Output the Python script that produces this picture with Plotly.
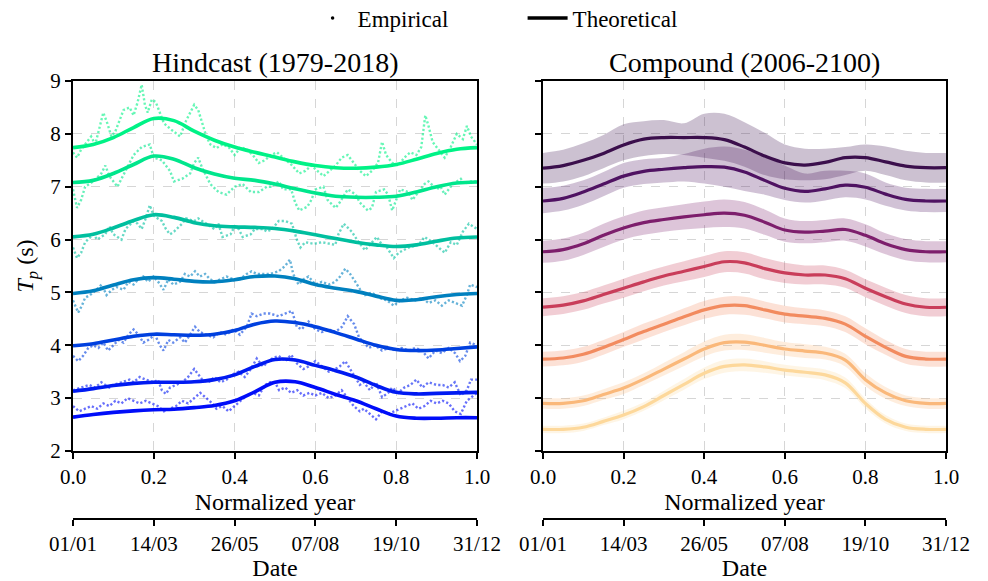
import plotly.graph_objects as go

# ---------------------------------------------------------------------------
# Data
# ---------------------------------------------------------------------------
# Normalized-year grid for the fitted (theoretical) quantile curves
year_grid = [0.00, 0.05, 0.10, 0.15, 0.20, 0.25, 0.30, 0.35, 0.40, 0.45, 0.50,
             0.55, 0.60, 0.65, 0.70, 0.75, 0.80, 0.85, 0.90, 0.95, 1.00]

quantiles = [0.05, 0.10, 0.25, 0.50, 0.75, 0.90, 0.95]

# Hindcast theoretical quantile curves of Tp (s)
hind_q05 = [2.64, 2.69, 2.73, 2.76, 2.78, 2.79, 2.82, 2.86, 2.95, 3.12, 3.30,
            3.31, 3.20, 3.07, 2.95, 2.80, 2.66, 2.62, 2.62, 2.63, 2.63]
hind_q10 = [3.13, 3.18, 3.24, 3.28, 3.30, 3.30, 3.31, 3.35, 3.44, 3.60, 3.73,
            3.72, 3.62, 3.52, 3.40, 3.24, 3.11, 3.08, 3.09, 3.10, 3.11]
hind_q25 = [3.99, 4.03, 4.10, 4.17, 4.21, 4.20, 4.19, 4.21, 4.28, 4.40, 4.46,
            4.43, 4.35, 4.24, 4.12, 4.00, 3.92, 3.90, 3.91, 3.94, 3.97]
hind_q50 = [4.98, 5.03, 5.14, 5.24, 5.28, 5.25, 5.21, 5.20, 5.24, 5.30, 5.31,
            5.26, 5.15, 5.08, 5.02, 4.93, 4.85, 4.86, 4.92, 4.96, 4.98]
hind_q75 = [6.05, 6.10, 6.22, 6.36, 6.47, 6.42, 6.32, 6.26, 6.24, 6.23, 6.21,
            6.16, 6.09, 6.02, 5.95, 5.90, 5.87, 5.90, 5.97, 6.03, 6.05]
hind_q90 = [7.08, 7.12, 7.25, 7.42, 7.58, 7.52, 7.36, 7.24, 7.16, 7.12, 7.05,
            6.96, 6.88, 6.82, 6.80, 6.80, 6.82, 6.90, 7.00, 7.07, 7.09]
hind_q95 = [7.74, 7.80, 7.93, 8.12, 8.29, 8.25, 8.05, 7.88, 7.75, 7.65, 7.56,
            7.47, 7.40, 7.36, 7.35, 7.37, 7.42, 7.52, 7.63, 7.71, 7.74]

# Hindcast empirical quantiles: (normalized year, Tp)
emp_q05 = [(0.000, 2.85), (0.015, 2.75), (0.030, 2.80), (0.045, 2.85), (0.060, 2.80),
           (0.075, 2.90), (0.090, 2.85), (0.105, 2.95), (0.120, 2.90), (0.135, 3.00),
           (0.150, 2.95), (0.165, 2.90), (0.180, 2.95), (0.195, 2.90), (0.210, 2.85),
           (0.225, 2.75), (0.240, 2.80), (0.255, 2.85), (0.270, 2.95), (0.285, 2.90),
           (0.300, 3.00), (0.315, 3.10), (0.330, 3.00), (0.345, 2.90), (0.355, 2.80),
           (0.370, 2.85), (0.385, 2.75), (0.400, 2.85), (0.415, 2.95), (0.430, 3.05),
           (0.445, 3.10), (0.460, 3.05), (0.475, 3.25), (0.488, 3.30), (0.500, 3.30),
           (0.510, 3.15), (0.525, 3.20), (0.540, 3.10), (0.555, 3.15), (0.570, 3.05),
           (0.585, 3.10), (0.600, 3.05), (0.616, 3.10), (0.633, 3.00), (0.649, 3.05),
           (0.665, 3.15), (0.680, 3.00), (0.695, 2.85), (0.710, 2.75), (0.720, 2.80),
           (0.735, 2.70), (0.750, 2.60), (0.765, 2.75), (0.780, 2.70), (0.795, 2.75),
           (0.810, 2.80), (0.825, 2.85), (0.840, 2.90), (0.855, 2.80), (0.870, 2.85),
           (0.885, 2.95), (0.900, 2.90), (0.915, 2.95), (0.930, 2.90), (0.945, 2.75),
           (0.960, 2.70), (0.975, 2.95), (0.990, 3.05), (1.000, 3.10)]

emp_q10 = [(0.000, 3.15), (0.020, 3.20), (0.040, 3.25), (0.055, 3.20), (0.070, 3.30),
           (0.090, 3.20), (0.100, 3.25), (0.120, 3.30), (0.140, 3.35), (0.150, 3.30),
           (0.165, 3.40), (0.180, 3.35), (0.200, 3.30), (0.210, 3.35), (0.220, 3.15),
           (0.230, 3.08), (0.240, 3.20), (0.255, 3.25), (0.270, 3.30), (0.285, 3.40),
           (0.300, 3.55), (0.310, 3.45), (0.320, 3.35), (0.335, 3.30), (0.350, 3.40),
           (0.365, 3.30), (0.380, 3.35), (0.395, 3.45), (0.410, 3.50), (0.425, 3.40),
           (0.440, 3.55), (0.455, 3.75), (0.470, 3.60), (0.485, 3.70), (0.493, 3.75),
           (0.509, 3.80), (0.525, 3.70), (0.540, 3.82), (0.555, 3.65), (0.570, 3.55),
           (0.583, 3.60), (0.600, 3.70), (0.616, 3.60), (0.633, 3.50), (0.649, 3.55),
           (0.660, 3.60), (0.674, 3.70), (0.686, 3.55), (0.700, 3.40), (0.710, 3.25),
           (0.720, 3.30), (0.735, 3.15), (0.750, 3.30), (0.765, 3.02), (0.780, 3.10),
           (0.790, 3.20), (0.805, 3.10), (0.820, 3.20), (0.835, 3.25), (0.850, 3.35),
           (0.865, 3.20), (0.880, 3.30), (0.900, 3.25), (0.915, 3.25), (0.930, 3.20),
           (0.945, 3.30), (0.960, 3.05), (0.975, 3.15), (0.985, 3.35), (1.000, 3.35)]

emp_q25 = [(0.000, 3.80), (0.013, 3.70), (0.025, 3.80), (0.038, 3.95), (0.050, 4.00),
           (0.063, 3.95), (0.075, 4.05), (0.087, 3.90), (0.100, 4.00), (0.112, 4.10),
           (0.125, 4.05), (0.137, 4.20), (0.150, 4.30), (0.162, 4.20), (0.174, 4.05),
           (0.186, 4.10), (0.203, 4.20), (0.215, 4.00), (0.224, 3.90), (0.236, 4.10),
           (0.248, 4.05), (0.265, 4.15), (0.277, 4.05), (0.290, 4.20), (0.302, 4.35),
           (0.314, 4.25), (0.330, 4.20), (0.347, 4.15), (0.364, 4.25), (0.380, 4.20),
           (0.397, 4.30), (0.413, 4.20), (0.430, 4.35), (0.442, 4.60), (0.455, 4.55),
           (0.471, 4.60), (0.488, 4.60), (0.509, 4.55), (0.525, 4.60), (0.542, 4.65),
           (0.554, 4.35), (0.566, 4.30), (0.583, 4.45), (0.600, 4.30), (0.616, 4.25),
           (0.633, 4.30), (0.649, 4.25), (0.666, 4.35), (0.680, 4.55), (0.696, 4.40),
           (0.708, 4.15), (0.720, 4.05), (0.732, 3.95), (0.748, 4.00), (0.765, 3.90),
           (0.781, 3.95), (0.798, 3.90), (0.814, 3.95), (0.831, 3.90), (0.847, 3.95),
           (0.864, 3.90), (0.880, 3.75), (0.897, 3.90), (0.913, 3.85), (0.930, 3.95),
           (0.946, 3.85), (0.958, 3.70), (0.971, 3.80), (0.983, 4.05), (1.000, 4.00)]

emp_q50 = [(0.000, 4.85), (0.013, 4.62), (0.022, 4.75), (0.030, 4.90), (0.042, 4.95),
           (0.058, 5.05), (0.071, 5.15), (0.083, 4.95), (0.096, 5.05), (0.108, 5.10),
           (0.125, 5.05), (0.137, 5.20), (0.150, 5.15), (0.162, 5.25), (0.174, 5.30),
           (0.186, 5.20), (0.199, 5.30), (0.211, 5.20), (0.224, 5.05), (0.236, 5.25),
           (0.248, 5.15), (0.265, 5.20), (0.277, 5.35), (0.290, 5.30), (0.302, 5.40),
           (0.314, 5.30), (0.327, 5.35), (0.339, 5.25), (0.351, 5.20), (0.364, 5.25),
           (0.380, 5.30), (0.397, 5.25), (0.413, 5.25), (0.430, 5.35), (0.442, 5.40),
           (0.455, 5.35), (0.471, 5.35), (0.488, 5.35), (0.509, 5.40), (0.525, 5.50),
           (0.537, 5.62), (0.545, 5.35), (0.558, 5.15), (0.571, 5.25), (0.583, 5.30),
           (0.600, 5.15), (0.616, 5.20), (0.633, 5.15), (0.649, 5.20), (0.661, 5.30),
           (0.674, 5.45), (0.686, 5.35), (0.699, 5.20), (0.711, 5.05), (0.723, 4.95),
           (0.740, 5.00), (0.756, 4.90), (0.777, 4.85), (0.794, 4.75), (0.810, 4.85),
           (0.827, 4.90), (0.847, 4.85), (0.864, 4.90), (0.880, 4.80), (0.897, 4.85),
           (0.913, 4.75), (0.930, 4.85), (0.946, 4.80), (0.963, 4.75), (0.975, 4.95),
           (0.983, 5.15), (1.000, 5.10)]

emp_q75 = [(0.000, 5.85), (0.010, 5.65), (0.020, 5.75), (0.030, 5.95), (0.050, 6.10),
           (0.060, 6.00), (0.080, 6.10), (0.090, 6.25), (0.100, 6.10), (0.120, 6.00),
           (0.130, 6.20), (0.150, 6.35), (0.160, 6.30), (0.170, 6.20), (0.180, 6.40),
           (0.190, 6.65), (0.200, 6.45), (0.210, 6.40), (0.220, 6.35), (0.230, 6.20),
           (0.240, 6.10), (0.250, 6.15), (0.270, 6.30), (0.280, 6.40), (0.300, 6.35),
           (0.310, 6.40), (0.330, 6.30), (0.350, 6.20), (0.360, 6.30), (0.370, 6.05),
           (0.390, 6.10), (0.400, 6.25), (0.410, 6.20), (0.420, 6.05), (0.440, 6.10),
           (0.450, 6.20), (0.470, 6.20), (0.480, 6.15), (0.493, 6.20), (0.509, 6.35),
           (0.525, 6.35), (0.542, 6.30), (0.554, 6.00), (0.563, 5.85), (0.575, 5.95),
           (0.596, 5.92), (0.616, 5.95), (0.633, 5.92), (0.649, 5.90), (0.657, 6.10),
           (0.670, 6.30), (0.690, 6.15), (0.707, 5.95), (0.723, 5.80), (0.740, 5.95),
           (0.752, 6.05), (0.765, 5.90), (0.777, 5.85), (0.794, 5.65), (0.806, 5.75),
           (0.831, 5.85), (0.855, 5.90), (0.870, 6.05), (0.890, 5.95), (0.905, 5.85),
           (0.920, 5.75), (0.935, 5.95), (0.950, 5.90), (0.965, 6.15), (0.980, 6.30),
           (0.990, 6.25), (1.000, 6.20)]

emp_q90 = [(0.000, 6.95), (0.010, 6.60), (0.020, 6.75), (0.030, 7.00), (0.050, 7.10),
           (0.070, 7.25), (0.080, 7.40), (0.090, 7.20), (0.110, 7.00), (0.130, 7.30),
           (0.150, 7.60), (0.170, 7.75), (0.190, 7.80), (0.200, 7.55), (0.220, 7.50),
           (0.240, 7.30), (0.250, 7.10), (0.270, 7.15), (0.290, 7.25), (0.300, 7.45),
           (0.310, 7.55), (0.320, 7.35), (0.340, 7.05), (0.360, 6.90), (0.380, 6.85),
           (0.400, 7.00), (0.420, 7.05), (0.440, 6.90), (0.460, 6.90), (0.480, 7.00),
           (0.490, 7.00), (0.510, 7.10), (0.520, 6.95), (0.540, 6.95), (0.550, 6.70),
           (0.560, 6.55), (0.580, 6.62), (0.590, 6.75), (0.600, 6.95), (0.620, 7.00),
           (0.630, 6.75), (0.650, 6.60), (0.660, 6.70), (0.680, 6.95), (0.700, 6.85),
           (0.710, 6.70), (0.730, 6.55), (0.740, 6.60), (0.750, 6.90), (0.770, 6.95),
           (0.780, 6.85), (0.790, 6.55), (0.800, 6.75), (0.810, 6.95), (0.830, 6.90),
           (0.840, 6.75), (0.850, 6.85), (0.870, 7.05), (0.880, 7.10), (0.900, 6.95),
           (0.910, 7.00), (0.920, 6.85), (0.940, 7.05), (0.960, 7.15), (0.970, 7.05),
           (0.980, 7.10), (1.000, 7.10)]

emp_q95 = [(0.000, 7.65), (0.010, 7.55), (0.020, 7.70), (0.035, 7.85), (0.045, 7.95),
           (0.055, 7.80), (0.065, 8.10), (0.075, 8.40), (0.085, 8.20), (0.095, 7.95),
           (0.105, 8.05), (0.115, 8.25), (0.125, 8.45), (0.140, 8.50), (0.150, 8.35),
           (0.160, 8.60), (0.170, 8.93), (0.178, 8.55), (0.185, 8.40), (0.195, 8.65),
           (0.205, 8.60), (0.215, 8.40), (0.225, 8.20), (0.240, 8.10), (0.255, 8.00),
           (0.265, 7.95), (0.280, 8.25), (0.290, 8.40), (0.300, 8.55), (0.310, 8.45),
           (0.320, 8.20), (0.330, 7.95), (0.340, 7.80), (0.355, 7.73), (0.370, 7.80),
           (0.385, 7.75), (0.400, 7.60), (0.415, 7.75), (0.430, 7.70), (0.445, 7.60),
           (0.460, 7.45), (0.475, 7.50), (0.490, 7.60), (0.505, 7.65), (0.520, 7.55),
           (0.540, 7.42), (0.560, 7.25), (0.575, 7.30), (0.590, 7.40), (0.605, 7.30),
           (0.620, 7.20), (0.635, 7.30), (0.650, 7.40), (0.665, 7.55), (0.680, 7.60),
           (0.695, 7.45), (0.710, 7.30), (0.725, 7.20), (0.740, 7.30), (0.755, 7.45),
           (0.765, 7.85), (0.775, 7.60), (0.790, 7.45), (0.805, 7.40), (0.820, 7.55),
           (0.835, 7.65), (0.850, 7.60), (0.862, 7.75), (0.872, 8.35), (0.880, 8.15),
           (0.890, 7.85), (0.905, 7.70), (0.920, 7.55), (0.935, 7.75), (0.950, 8.00),
           (0.965, 7.90), (0.975, 8.15), (0.985, 7.95), (1.000, 7.80)]

# Compound (2006-2100) theoretical quantile curves of Tp (s)
comp_q05 = [2.41, 2.41, 2.45, 2.56, 2.68, 2.84, 3.05, 3.26, 3.47, 3.60, 3.63,
            3.59, 3.53, 3.49, 3.44, 3.29, 2.90, 2.60, 2.45, 2.41, 2.41]
comp_q10 = [2.90, 2.90, 2.95, 3.07, 3.19, 3.36, 3.55, 3.74, 3.93, 4.05, 4.06,
            4.00, 3.93, 3.89, 3.85, 3.72, 3.35, 3.10, 2.95, 2.90, 2.90]
comp_q25 = [3.74, 3.76, 3.83, 3.96, 4.11, 4.26, 4.40, 4.54, 4.67, 4.75, 4.75,
            4.67, 4.59, 4.55, 4.51, 4.40, 4.17, 3.96, 3.79, 3.74, 3.74]
comp_q50 = [4.72, 4.76, 4.84, 4.96, 5.08, 5.20, 5.31, 5.40, 5.49, 5.58, 5.56,
            5.45, 5.37, 5.33, 5.33, 5.26, 5.08, 4.92, 4.78, 4.72, 4.72]
comp_q75 = [5.77, 5.81, 5.92, 6.08, 6.22, 6.32, 6.38, 6.43, 6.47, 6.50, 6.46,
            6.33, 6.18, 6.14, 6.16, 6.19, 6.08, 5.92, 5.81, 5.77, 5.77]
comp_q90 = [6.73, 6.78, 6.90, 7.05, 7.20, 7.29, 7.33, 7.36, 7.38, 7.37, 7.28,
            7.12, 6.97, 6.91, 6.96, 7.03, 6.99, 6.86, 6.76, 6.73, 6.73]
comp_q95 = [7.35, 7.40, 7.50, 7.63, 7.79, 7.90, 7.93, 7.93, 7.93, 7.89, 7.75,
            7.58, 7.45, 7.41, 7.46, 7.55, 7.55, 7.47, 7.39, 7.36, 7.36]

# Spread across the compound ensemble: lower / upper envelopes of the two top quantiles
comp_q95_lo = [7.06, 7.10, 7.20, 7.35, 7.50, 7.58, 7.62, 7.60, 7.55, 7.49, 7.38,
               7.22, 7.14, 7.12, 7.14, 7.22, 7.30, 7.22, 7.12, 7.08, 7.08]
comp_q95_hi = [7.64, 7.70, 7.82, 7.98, 8.18, 8.24, 8.26, 8.20, 8.38, 8.38, 8.22,
               8.02, 7.80, 7.72, 7.72, 7.75, 7.80, 7.76, 7.68, 7.64, 7.64]
comp_q90_lo = [6.50, 6.55, 6.66, 6.82, 6.98, 7.05, 7.08, 7.10, 7.06, 7.00, 6.92,
               6.85, 6.75, 6.70, 6.74, 6.80, 6.76, 6.64, 6.55, 6.52, 6.52]
comp_q90_hi = [6.98, 7.02, 7.12, 7.28, 7.45, 7.52, 7.55, 7.62, 7.72, 7.76, 7.70,
               7.58, 7.40, 7.25, 7.30, 7.30, 7.25, 7.08, 6.98, 6.96, 6.96]
# Half-widths of the ensemble spread for the remaining quantiles
comp_q75_hw = [0.21, 0.21, 0.21, 0.22, 0.22, 0.23, 0.23, 0.24, 0.25, 0.26, 0.25,
               0.24, 0.22, 0.21, 0.21, 0.21, 0.21, 0.20, 0.20, 0.20, 0.20]
comp_q50_hw = [0.17, 0.17, 0.17, 0.17, 0.18, 0.18, 0.18, 0.19, 0.20, 0.20, 0.20,
               0.20, 0.19, 0.18, 0.18, 0.17, 0.17, 0.17, 0.17, 0.17, 0.17]
comp_q25_hw = [0.14, 0.14, 0.14, 0.14, 0.14, 0.15, 0.15, 0.16, 0.17, 0.17, 0.17,
               0.16, 0.16, 0.15, 0.15, 0.15, 0.15, 0.14, 0.14, 0.14, 0.14]
comp_q10_hw = [0.10, 0.10, 0.10, 0.10, 0.11, 0.11, 0.12, 0.13, 0.14, 0.15, 0.15,
               0.14, 0.13, 0.13, 0.12, 0.12, 0.12, 0.11, 0.10, 0.10, 0.10]
comp_q05_hw = [0.07, 0.07, 0.07, 0.07, 0.08, 0.08, 0.09, 0.10, 0.11, 0.12, 0.12,
               0.11, 0.10, 0.10, 0.10, 0.10, 0.09, 0.08, 0.07, 0.07, 0.07]

norm_ticks = [0.0, 0.2, 0.4, 0.6, 0.8, 1.0]
date_labels = ["01/01", "14/03", "26/05", "07/08", "19/10", "31/12"]
tp_ticks = [2, 3, 4, 5, 6, 7, 8, 9]

# ---------------------------------------------------------------------------
# Styling
# ---------------------------------------------------------------------------
FONT = "Liberation Serif"
hind_colors = ["rgb(0,13,249)", "rgb(0,26,242)", "rgb(0,64,223)", "rgb(0,128,191)",
               "rgb(0,191,159)", "rgb(0,230,140)", "rgb(0,242,134)"]
hind_dot_colors = ["rgba(0,13,249,0.6)", "rgba(0,26,242,0.6)", "rgba(0,64,223,0.6)",
                   "rgba(0,128,191,0.6)", "rgba(0,191,159,0.6)", "rgba(0,230,140,0.6)",
                   "rgba(0,242,134,0.6)"]
comp_colors = ["#fdd89b", "#fab87a", "#f28b5f", "#c93d5a", "#7d1e6c", "#4f1262", "#3b0f4c"]


def hex_rgba(h, a):
    h = h.lstrip("#")
    r, g, b = int(h[0:2], 16), int(h[2:4], 16), int(h[4:6], 16)
    return f"rgba({r},{g},{b},{a})"


hind_curves = [hind_q05, hind_q10, hind_q25, hind_q50, hind_q75, hind_q90, hind_q95]
hind_emp = [emp_q05, emp_q10, emp_q25, emp_q50, emp_q75, emp_q90, emp_q95]
comp_curves = [comp_q05, comp_q10, comp_q25, comp_q50, comp_q75, comp_q90, comp_q95]

comp_lo = [[c - w for c, w in zip(comp_q05, comp_q05_hw)],
           [c - w for c, w in zip(comp_q10, comp_q10_hw)],
           [c - w for c, w in zip(comp_q25, comp_q25_hw)],
           [c - w for c, w in zip(comp_q50, comp_q50_hw)],
           [c - w for c, w in zip(comp_q75, comp_q75_hw)],
           comp_q90_lo, comp_q95_lo]
comp_hi = [[c + w for c, w in zip(comp_q05, comp_q05_hw)],
           [c + w for c, w in zip(comp_q10, comp_q10_hw)],
           [c + w for c, w in zip(comp_q25, comp_q25_hw)],
           [c + w for c, w in zip(comp_q50, comp_q50_hw)],
           [c + w for c, w in zip(comp_q75, comp_q75_hw)],
           comp_q90_hi, comp_q95_hi]

fig = go.Figure()

# Hindcast: empirical quantiles (dotted) then the fitted curves
for pts, col in zip(hind_emp, hind_dot_colors):
    fig.add_trace(go.Scatter(
        x=[p[0] for p in pts], y=[p[1] for p in pts], mode="lines",
        line=dict(color=col, width=2.4, dash="2.2px,2.2px"),
        showlegend=False, hoverinfo="skip", xaxis="x", yaxis="y"))
for curve, col in zip(hind_curves, hind_colors):
    fig.add_trace(go.Scatter(
        x=year_grid, y=curve, mode="lines",
        line=dict(color=col, width=3.6, shape="spline", smoothing=1.0),
        showlegend=False, hoverinfo="skip", xaxis="x", yaxis="y"))

# Compound: ensemble spread bands, then the fitted curves
for lo, hi, col in zip(comp_lo, comp_hi, comp_colors):
    fig.add_trace(go.Scatter(
        x=year_grid, y=lo, mode="lines",
        line=dict(width=0, shape="spline", smoothing=1.0),
        showlegend=False, hoverinfo="skip", xaxis="x2", yaxis="y2"))
    fig.add_trace(go.Scatter(
        x=year_grid, y=hi, mode="lines", fill="tonexty",
        fillcolor=hex_rgba(col, 0.26),
        line=dict(width=0, shape="spline", smoothing=1.0),
        showlegend=False, hoverinfo="skip", xaxis="x2", yaxis="y2"))
for curve, col in zip(comp_curves, comp_colors):
    fig.add_trace(go.Scatter(
        x=year_grid, y=curve, mode="lines",
        line=dict(color=col, width=3.2, shape="spline", smoothing=1.0),
        showlegend=False, hoverinfo="skip", xaxis="x2", yaxis="y2"))

# Date axes below each panel
fig.add_trace(go.Scatter(x=[0, 1], y=[None, None], mode="lines", showlegend=False,
                         hoverinfo="skip", xaxis="x3", yaxis="y"))
fig.add_trace(go.Scatter(x=[0, 1], y=[None, None], mode="lines", showlegend=False,
                         hoverinfo="skip", xaxis="x4", yaxis="y2"))

# Legend entries
fig.add_trace(go.Scatter(x=[None], y=[None], mode="markers", name="Empirical",
                         legendrank=1, marker=dict(color="black", size=3.5)))
fig.add_trace(go.Scatter(x=[None], y=[None], mode="lines", name="Theoretical",
                         legendrank=2, line=dict(color="black", width=3.5)))

W, H = 988, 581
ML, MR, MT, MB = 73, 42, 81, 62
plot_w = W - ML - MR
plot_h = H - MT - MB
left_dom = [0, (477 - ML) / plot_w]
right_dom = [(543 - ML) / plot_w, 1]
y_dom = [(H - MB - 451) / plot_h, 1]

grid = dict(showgrid=True, gridcolor="#d6d6d6", gridwidth=1, griddash="dash")
frame = dict(showline=True, linecolor="black", linewidth=2, mirror=True,
             ticks="outside", ticklen=6, tickwidth=1.6, tickcolor="black", zeroline=False)
tickfont = dict(family=FONT, size=21, color="black")
titlefont = dict(family=FONT, size=24, color="black")

xnorm = dict(range=[0, 1], tickvals=norm_ticks, ticktext=[f"{v:.1f}" for v in norm_ticks],
             tickfont=tickfont, title=dict(text="Normalized year", font=titlefont, standoff=0),
             **grid, **frame)
xdate = dict(range=[0, 1], tickvals=norm_ticks, ticktext=date_labels, tickfont=tickfont,
             anchor="free", position=0, side="bottom", showgrid=False, zeroline=False,
             showline=True, linecolor="black", linewidth=2, ticks="outside", ticklen=6,
             tickwidth=1.6, tickcolor="black",
             title=dict(text="Date", font=titlefont, standoff=7))

fig.update_layout(
    width=W, height=H,
    margin=dict(l=ML, r=MR, t=MT, b=MB, autoexpand=False),
    paper_bgcolor="white", plot_bgcolor="white",
    font=dict(family=FONT, color="black"),
    xaxis=dict(domain=left_dom, anchor="y", **xnorm),
    xaxis2=dict(domain=right_dom, anchor="y2", **xnorm),
    xaxis3=dict(domain=left_dom, overlaying="x", **xdate),
    xaxis4=dict(domain=right_dom, overlaying="x2", **xdate),
    yaxis=dict(domain=y_dom, anchor="x", range=[2, 9], tickvals=tp_ticks,
               tickfont=tickfont,
               title=dict(text="<i>T</i><sub><i>p</i></sub> (s)", font=titlefont, standoff=10),
               **grid, **frame),
    yaxis2=dict(domain=y_dom, anchor="x2", range=[2, 9], tickvals=tp_ticks,
                showticklabels=False, **grid, **frame),
    legend=dict(orientation="h", x=0.515, xanchor="center", y=1.144, yanchor="middle",
                font=dict(family=FONT, size=23, color="black"), bgcolor="rgba(0,0,0,0)",
                itemwidth=40, entrywidth=160, traceorder="normal"),
    annotations=[
        dict(text="Hindcast (1979-2018)", x=sum(left_dom) / 2, y=1.043, xref="paper",
             yref="paper", xanchor="center", yanchor="middle", showarrow=False,
             font=dict(family=FONT, size=28, color="black")),
        dict(text="Compound (2006-2100)", x=sum(right_dom) / 2, y=1.043, xref="paper",
             yref="paper", xanchor="center", yanchor="middle", showarrow=False,
             font=dict(family=FONT, size=28, color="black")),
    ],
)

fig.write_html("out.html")
